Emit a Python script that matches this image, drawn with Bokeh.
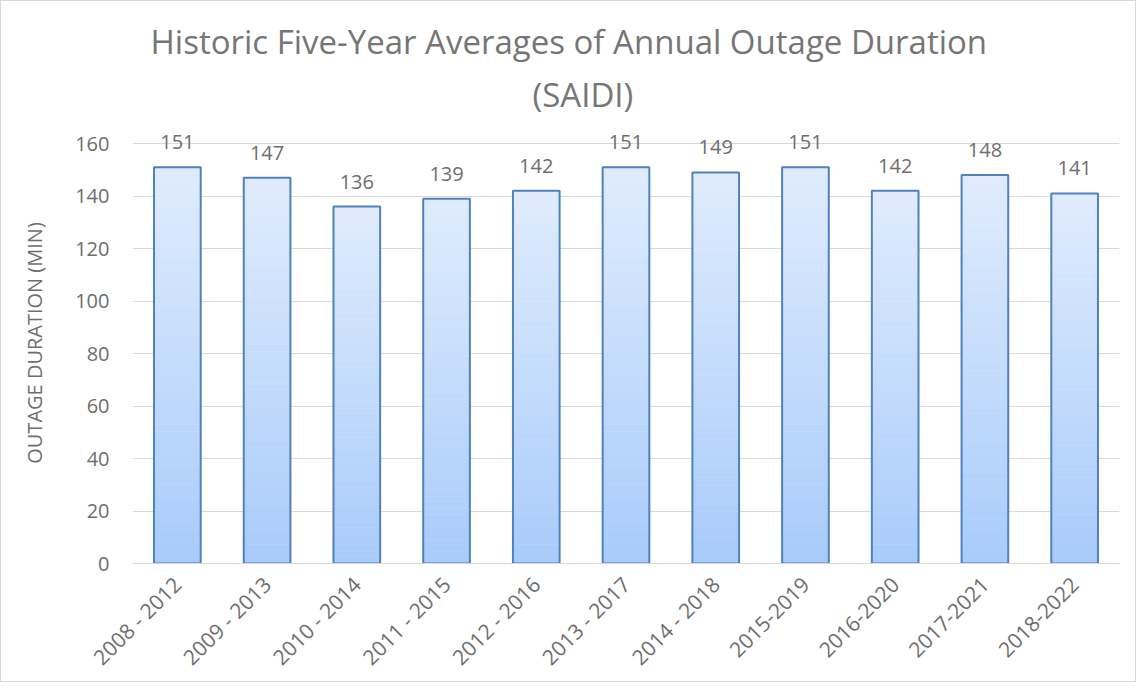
import math
from bokeh.plotting import figure
from bokeh.models import ColumnDataSource, Title, FixedTicker, Range1d
from bokeh.core.properties import value
from bokeh.embed import file_html
from bokeh.resources import INLINE

# ---- data ----
periods = ["2008 - 2012", "2009 - 2013", "2010 - 2014", "2011 - 2015", "2012 - 2016",
           "2013 - 2017", "2014 - 2018", "2015-2019", "2016-2020", "2017-2021", "2018-2022"]
saidi = [151, 147, 136, 139, 142, 151, 149, 151, 142, 148, 141]
y_ticks = [0, 20, 40, 60, 80, 100, 120, 140, 160]
title_lines = ["Historic Five-Year Averages of Annual Outage Duration", "(SAIDI)"]
y_label = "OUTAGE DURATION (MIN)"

FONT = "Open Sans"
TXT = "#6e6e6e"
BAR_W = 0.52

# gradient colours (bottom -> top)
c_bot = (0xa8, 0xcb, 0xfb)
c_top = (0xe0, 0xec, 0xfd)


def mix(f):
    r = [round(c_bot[i] + (c_top[i] - c_bot[i]) * f) for i in range(3)]
    return "#%02x%02x%02x" % tuple(r)


N = 60
bx, bb, bt, bc = [], [], [], []
for cat, v in zip(periods, saidi):
    for k in range(N):
        bx.append(cat)
        bb.append(v * k / N)
        bt.append(v * (k + 1) / N)
        bc.append(mix((k + 0.5) / N))
bands = ColumnDataSource(dict(x=bx, bottom=bb, top=bt, color=bc))
src = ColumnDataSource(dict(x=periods, top=saidi, lab=[str(v) for v in saidi]))

p = figure(x_range=periods, y_range=Range1d(0, 168), width=1136, height=682,
           output_backend="svg", toolbar_location=None,
           min_border_left=131, min_border_right=18, min_border_bottom=118, min_border_top=121)
p.styles = {"border": "1px solid #d9d9d9"}

p.vbar(x="x", bottom="bottom", top="top", width=BAR_W, source=bands,
       fill_color="color", line_color="color", line_width=0.6)
p.vbar(x="x", top="top", width=BAR_W, source=src, fill_color=None,
       line_color="#4f81bd", line_width=2)
p.text(x="x", y="top", text="lab", source=src, text_align="center", text_baseline="middle",
       y_offset=-25, text_font=value(FONT), text_font_size="20px", text_color=TXT)

# titles (first added sits closest to the plot)
p.add_layout(Title(text=title_lines[1], align="left", offset=400, text_font=FONT,
                   text_font_size="33px", text_font_style="normal", text_color="#767676",
                   standoff=12), "above")
p.add_layout(Title(text=title_lines[0], align="left", offset=18, text_font=FONT,
                   text_font_size="33px", text_font_style="normal", text_color="#767676",
                   standoff=0), "above")

p.outline_line_color = None
p.background_fill_color = "white"
p.border_fill_color = "white"

p.xgrid.grid_line_color = None
p.ygrid.grid_line_color = "#d9d9d9"
p.ygrid.grid_line_width = 1
p.yaxis.ticker = FixedTicker(ticks=y_ticks)

p.yaxis.axis_line_color = None
p.yaxis.major_tick_line_color = None
p.yaxis.minor_tick_line_color = None
p.yaxis.major_tick_out = 0
p.yaxis.major_tick_in = 0
p.yaxis.major_label_standoff = 23
p.yaxis.axis_label = y_label
p.yaxis.axis_label_standoff = 24
p.yaxis.axis_label_text_font = FONT
p.yaxis.axis_label_text_font_size = "20px"
p.yaxis.axis_label_text_font_style = "normal"
p.yaxis.axis_label_text_color = TXT

p.xaxis.axis_line_color = "#d9d9d9"
p.xaxis.major_tick_line_color = None
p.xaxis.minor_tick_line_color = None
p.xaxis.major_tick_out = 0
p.xaxis.major_tick_in = 0
p.xaxis.major_label_orientation = math.pi / 4
p.xaxis.major_label_standoff = 17

for ax in (p.xaxis, p.yaxis):
    ax.major_label_text_font = FONT
    ax.major_label_text_color = TXT
p.yaxis.major_label_text_font_size = "20px"
p.xaxis.major_label_text_font_size = "21px"

p.x_range.range_padding = 0.0

open("out.html", "w").write(file_html(p, INLINE))
